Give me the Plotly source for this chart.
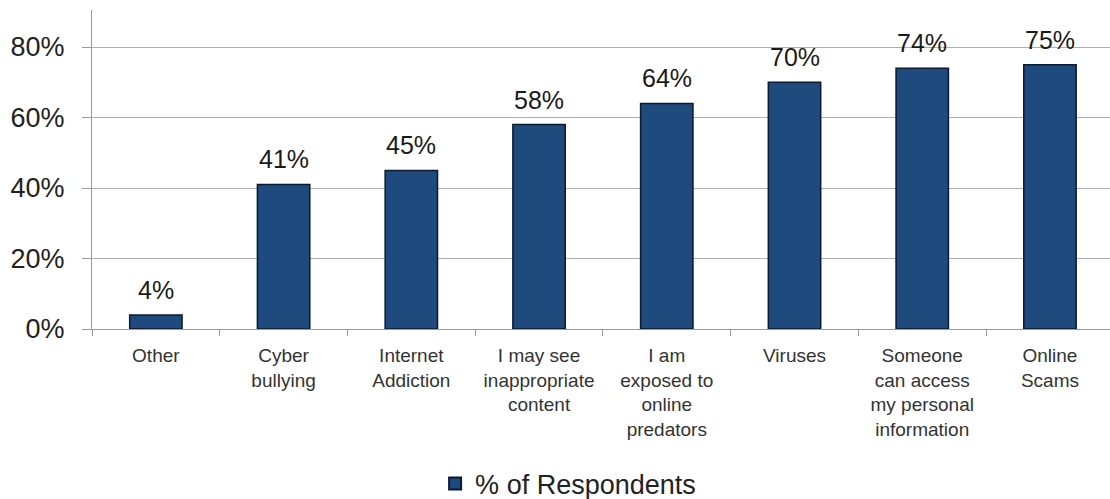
import plotly.graph_objects as go

categories = ["Other", "Cyber<br>bullying", "Internet<br>Addiction",
              "I may see<br>inappropriate<br>content",
              "I am<br>exposed to<br>online<br>predators",
              "Viruses", "Someone<br>can access<br>my personal<br>information",
              "Online<br>Scams"]
values = [4, 41, 45, 58, 64, 70, 74, 75]
labels = [f"{v}%" for v in values]
series_name = "% of Respondents"
y_ticks = [0, 20, 40, 60, 80]
y_tick_labels = ["0%", "20%", "40%", "60%", "80%"]

font = "Liberation Sans, Arial, sans-serif"

fig = go.Figure(go.Bar(
    x=categories, y=values, name=series_name,
    marker=dict(color="#1f4a7e", line=dict(color="#0b1a30", width=1.5)),
    showlegend=True,
))

for c, v, t in zip(categories, values, labels):
    fig.add_annotation(x=c, y=v, text=t, showarrow=False,
                       yanchor="bottom", yshift=9,
                       font=dict(size=25, family=font, color="#1a1a1a"))

fig.update_layout(
    width=1110, height=499,
    margin=dict(l=92, r=0, t=10, b=170),
    paper_bgcolor="white", plot_bgcolor="white",
    bargap=0.59,
    font=dict(family=font, color="#222"),
    legend=dict(orientation="h", x=0.392, xanchor="left", xref="container",
                y=0.03, yanchor="middle", yref="container",
                font=dict(size=27, family=font, color="#222"),
                itemsizing="constant", itemwidth=30),
)
fig.update_xaxes(
    range=[-0.5, 7.47], showline=True, linecolor="#9a9a9a", linewidth=1,
    ticks="outside", tickson="boundaries", ticklen=6, tickcolor="#9a9a9a",
    ticklabelstandoff=9,
    tickfont=dict(size=19, family=font, color="#333"),
)
fig.update_yaxes(
    range=[0, 90.5], tickvals=y_ticks, ticktext=y_tick_labels,
    showgrid=True, gridcolor="#b0b0b0", gridwidth=1,
    showline=True, linecolor="#9a9a9a", linewidth=1,
    ticks="outside", ticklen=9, tickcolor="#9a9a9a",
    ticklabelstandoff=12,
    tickfont=dict(size=27, family=font, color="#222"),
    zeroline=False,
)

fig.write_html("out.html")
